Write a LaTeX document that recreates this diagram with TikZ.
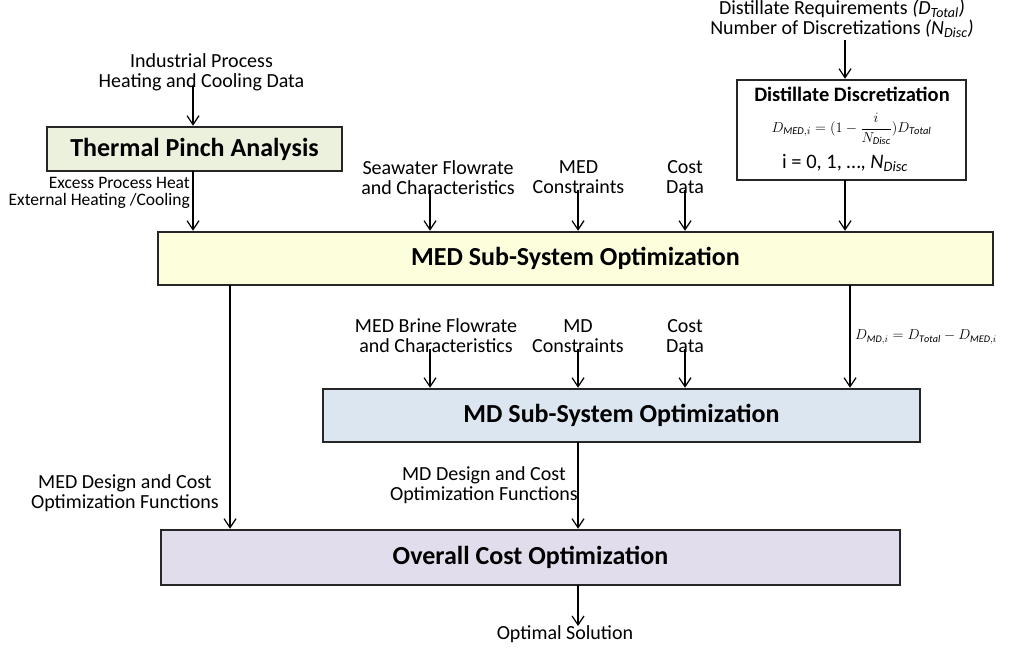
\documentclass[tikz,border=0pt]{standalone}
\usepackage{amsmath}
\usepackage{fontspec}
\setmainfont{Carlito}
\usetikzlibrary{arrows.meta}
\definecolor{pinchfill}{HTML}{EBF1DD}
\definecolor{medfill}{HTML}{FDFEDC}
\definecolor{mdfill}{HTML}{DCE6F0}
\definecolor{costfill}{HTML}{E2DDEC}
\begin{document}
\begin{tikzpicture}[x=1pt,y=-1pt,
  txt/.style={align=center,inner sep=0pt,font=\fontsize{20}{20}\selectfont},
  smalltxt/.style={align=right,inner sep=0pt,font=\fontsize{17.5}{17.5}\selectfont},
  box/.style={draw=black!85,line width=2.5pt,inner sep=0pt,font=\bfseries\fontsize{26}{28}\selectfont},
  arr/.style={draw=black,line width=1.2pt,-{Straight Barb[length=9pt,width=12pt,line width=1.2pt]}}]
\useasboundingbox (0,0) rectangle (1015,650);

% processing blocks
\node[box,fill=pinchfill,minimum width=295pt,minimum height=44pt] (tpa) at (194.5,149) {Thermal Pinch Analysis};
\node[box,fill=white,minimum width=229pt,minimum height=100pt] (dd) at (851.5,130) {};
\node[box,fill=medfill,minimum width=835pt,minimum height=53pt] (med) at (575.5,258.5) {MED Sub-System Optimization};
\node[box,fill=mdfill,minimum width=597pt,minimum height=53pt] (md) at (621.5,415.5) {MD Sub-System Optimization};
\node[box,fill=costfill,minimum width=739pt,minimum height=55pt] (oc) at (530.5,557.5) {Overall Cost Optimization};

% contents of the discretization block
\node[inner sep=0pt,font=\bfseries\fontsize{20.5}{22}\selectfont] (ddt) at (852,94) {Distillate Discretization};
\node[inner sep=0pt,font=\fontsize{15}{17}\selectfont] (ddf) at (851.5,129)
  {$D_{\mathit{MED},i} = (1-\dfrac{i}{N_{\mathit{Disc}}})D_{\mathit{Total}}$};
\node[inner sep=0pt,font=\fontsize{20.5}{22}\selectfont] (ddi) at (845,163) {i = 0, 1, \dots, \textit{N}\textsubscript{\textit{Disc}}};

% input labels
\node[txt] (ip) at (201.5,72) {Industrial Process\\Heating and Cooling Data};
\node[txt] (dr) at (842,19) {Distillate Requirements \textit{(D\textsubscript{Total})}\\Number of Discretizations \textit{(N\textsubscript{Disc})}};
\node[txt] (sw) at (438,177.5) {Seawater Flowrate\\and Characteristics};
\node[txt] (mc) at (578.5,177.5) {MED\\Constraints};
\node[txt] (cd1) at (685,177.5) {Cost\\Data};
\node[txt] (bf) at (436,336) {MED Brine Flowrate\\and Characteristics};
\node[txt] (mdc) at (578,336) {MD\\Constraints};
\node[txt] (cd2) at (685,336) {Cost\\Data};
\node[smalltxt,anchor=east] (eh) at (190,193) {Excess Process Heat\\External Heating /Cooling};
\node[txt,anchor=east] (medf) at (219,493.5) {MED Design and Cost\\Optimization Functions};
\node[txt,anchor=east] (mdf) at (578,485) {MD Design and Cost\\Optimization Functions};
\node[txt] (os) at (565,634) {Optimal Solution};
\node[inner sep=0pt,anchor=west,font=\fontsize{14.5}{16}\selectfont] (dmd) at (855,337) {$D_{\mathit{MD},i} = D_{\mathit{Total}} - D_{\mathit{MED},i}$};

% connector start points
\coordinate (s1) at (193,86);
\coordinate (s2) at (193,171);
\coordinate (s3) at (430,190);
\coordinate (s4) at (578,190);
\coordinate (s5) at (685,190);
\coordinate (s6) at (845,40);
\coordinate (s7) at (845,180);
\coordinate (s8) at (230,285);
\coordinate (s9) at (850,285);
\coordinate (s10) at (430,349);
\coordinate (s11) at (578,349);
\coordinate (s12) at (685,349);
\coordinate (s13) at (578,442);
\coordinate (s14) at (578,585);
\coordinate (e14) at (578,626);

% connectors
\draw[arr] (s1) -- (s1 |- tpa.north);
\draw[arr] (s2) -- (s2 |- med.north);
\draw[arr] (s3) -- (s3 |- med.north);
\draw[arr] (s4) -- (s4 |- med.north);
\draw[arr] (s5) -- (s5 |- med.north);
\draw[arr] (s6) -- (s6 |- dd.north);
\draw[arr] (s7) -- (s7 |- med.north);
\draw[arr] (s8) -- (s8 |- oc.north);
\draw[arr] (s9) -- (s9 |- md.north);
\draw[arr] (s10) -- (s10 |- md.north);
\draw[arr] (s11) -- (s11 |- md.north);
\draw[arr] (s12) -- (s12 |- md.north);
\draw[arr] (s13) -- (s13 |- oc.north);
\draw[arr] (s14) -- (e14);
\end{tikzpicture}
\end{document}
